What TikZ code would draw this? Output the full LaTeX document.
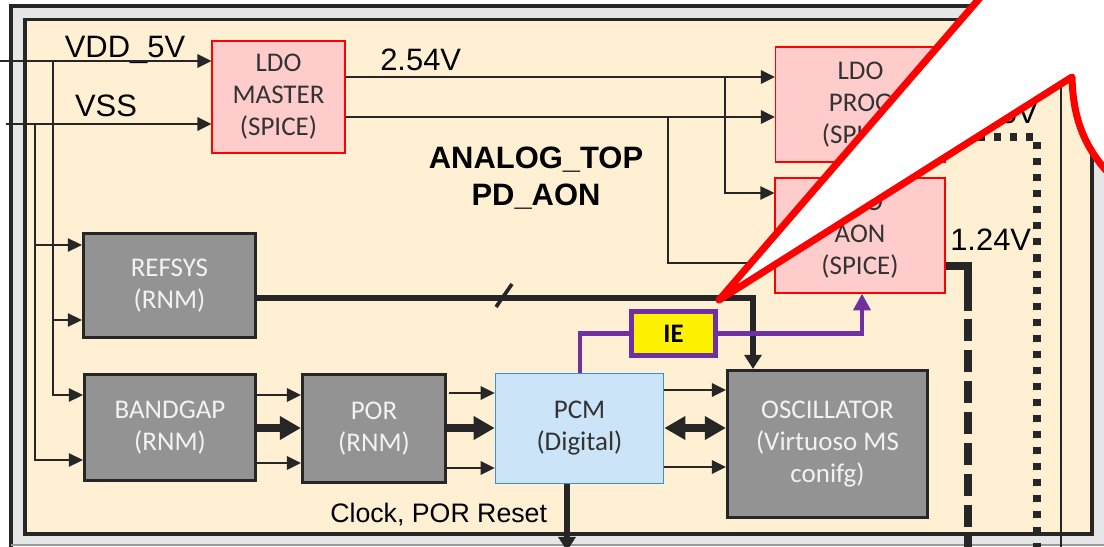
\documentclass[tikz,border=0pt]{standalone}
\usepackage{fontspec}
\setmainfont{Liberation Sans}
\newfontfamily\calfont{Carlito}
\usepackage{xcolor}
\usepackage{tikz}
\usetikzlibrary{arrows.meta}
\definecolor{cream}{HTML}{FFF0D4}
\definecolor{bandgray}{HTML}{E6E6E6}
\definecolor{ink}{HTML}{262626}
\definecolor{ldopink}{HTML}{FFCCCC}
\definecolor{rnmgray}{HTML}{939393}
\definecolor{pcmblue}{HTML}{CCE4F8}
\definecolor{pcmedge}{HTML}{3C8DDA}
\definecolor{iepurple}{HTML}{7030A0}

\begin{document}
\begin{tikzpicture}[x=0.025cm, y=-0.025cm,
			ldo/.style={draw=red, line width=0.8pt, fill=ldopink, text=black!80, align=center, inner sep=0pt, font=\calfont\fontsize{19.2}{22.8}\selectfont},
			rnm/.style={draw=ink, line width=2.2pt, fill=rnmgray, text=white!95!black, align=center, inner sep=0pt, font=\calfont\fontsize{19.2}{22.8}\selectfont},
			digital/.style={draw=pcmedge, line width=1.1pt, fill=pcmblue, text=black!80, align=center, inner sep=0pt, font=\calfont\fontsize{19.2}{22.8}\selectfont},
			enable/.style={draw=iepurple, line width=4.2pt, fill=yellow, inner sep=0pt, minimum width=2.1cm, minimum height=1.1cm, font=\calfont\bfseries\fontsize{19}{22}\selectfont},
			lbl/.style={inner sep=0pt, font=\fontsize{22}{26}\selectfont},
			wire/.style={draw=ink, line width=1.5pt, >={Triangle[length=10pt,width=9.5pt]}},
			tapline/.style={draw=ink, line width=1.1pt, >={Triangle[length=10pt,width=9.5pt]}},
			fat/.style={draw=ink, line width=5pt, >={Triangle[length=15pt,width=16pt]}},
			bus/.style={draw=ink, line width=3.6pt, >={Triangle[length=10pt,width=12pt]}},
			ctrl/.style={draw=iepurple, line width=3.4pt, >={Triangle[length=12pt,width=12pt]}},
			rail/.style={draw=ink, line width=5pt}
			]
			\useasboundingbox (0,0) rectangle (1104,546);
			\clip (0,0) rectangle (1104,546);
			\fill[white] (0,0) rectangle (1104,546);
			\fill[bandgray] (11,6) rectangle (1140,545);
			\draw[ink, line width=2.5pt] (11,560) -- (11,6) -- (1140,6);
			\draw[black!40, line width=1pt] (11,545) -- (1140,545);
			\draw[ink, line width=2.6pt, fill=cream] (25,19.5) rectangle (1092,534);
			
			\node [ldo, minimum width=3.325cm, minimum height=2.8cm](master) at (278.5,97) {LDO\\MASTER\\(SPICE)};
			\node [ldo, minimum width=4.25cm, minimum height=2.875cm](prog) at (860.5,104.5) {LDO\\PROG\\(SPICE)};
			\node [ldo, minimum width=4.25cm, minimum height=2.875cm](aon) at (860,235.5) {LDO\\AON\\(SPICE)};
			
			\node [rnm, minimum width=4.3cm, minimum height=2.6cm](refsys) at (169.5,285.5) {REFSYS\\(RNM)};
			\node [rnm, minimum width=4.275cm, minimum height=2.65cm](bandgap) at (170,427.5) {BANDGAP\\(RNM)};
			\node [rnm, minimum width=3.575cm, minimum height=2.7cm](por) at (374,428.5) {POR\\(RNM)};
			\node [digital, minimum width=4.2cm, minimum height=2.75cm](pcm) at (579.5,428.5) {PCM\\(Digital)};
			\node [rnm, minimum width=5cm, minimum height=3.675cm](osc) at (827.5,444) {OSCILLATOR\\(Virtuoso MS\\conifg)};
			\node [enable](ie) at (673.5,333.5) {IE};
			
			\node [lbl, anchor=base](vddlbl) at (125,57) {VDD\_5V};
			\node [lbl, anchor=base](vsslbl) at (106,116) {VSS};
			\node [lbl, anchor=base west](mainlbl) at (380,70) {2.54V};
			\node [lbl, anchor=base, font=\bfseries\fontsize{22}{26}\selectfont](toplbl) at (536,168) {ANALOG\_TOP};
			\node [lbl, anchor=base, font=\bfseries\fontsize{22}{26}\selectfont](pdlbl) at (536,205) {PD\_AON};
			\node [lbl, anchor=base west](aonlbl) at (950,250) {1.24V};
			\node [lbl, anchor=base east](proglbl) at (1038,123) {1.5V};
			\node [lbl, anchor=base west, font=\fontsize{19}{23}\selectfont](resetlbl) at (330,522) {Clock, POR Reset};
			
			\coordinate (vddin) at (-2,61);
			\coordinate (vssin) at (6,124);
			\coordinate (tapvdd) at (53,61);
			\coordinate (tapvss) at (35,124);
			\coordinate (tapprog) at (725,77);
			\coordinate (tapaon) at (668,117);
			\coordinate (aonbend) at (968,288);
			\coordinate (aonout) at (968,560);
			\coordinate (progout) at (1037,560);
			\coordinate (pcmout) at (567,551);
			
			\draw[wire, ->] (vddin) -- (master.west |- vddin);
			\draw[wire, ->] (vssin) -- (master.west |- vssin);
			\draw[tapline, ->] (tapvss) |- (refsys.west |- 0,245);
			\draw[tapline, ->] (tapvdd) |- (refsys.west |- 0,320);
			\draw[tapline, ->] (tapvdd) |- (bandgap.west |- 0,395);
			\draw[tapline, ->] (tapvss) |- (bandgap.west |- 0,460);
			
			\draw[wire, ->] (master.east |- 0,77) -- (prog.west |- 0,77);
			\draw[wire, ->] (master.east |- 0,117) -- (prog.west |- 0,117);
			\draw[tapline, ->] (tapprog) |- (aon.west |- 0,193);
			\draw[tapline] (tapaon) |- (aon.west |- 0,263);
			
			\draw[bus, ->] (refsys.east |- 0,298) -| (osc.north -| 753,0);
			\draw[ink, line width=2.6pt] (496,307) -- (512,284);
			
			\draw[wire, ->] (bandgap.east |- 0,395) -- (por.west |- 0,395);
			\draw[fat, ->] (bandgap.east |- 0,428) -- (por.west |- 0,428);
			\draw[wire, ->] (bandgap.east |- 0,463) -- (por.west |- 0,463);
			
			\draw[wire, ->] ([xshift=1.5pt]por.east |- 0,393) -- (pcm.west |- 0,393);
			\draw[fat, ->] (por.east |- 0,428) -- (pcm.west |- 0,428);
			\draw[wire, ->] (por.east |- 0,468) -- (pcm.west |- 0,468);
			
			\draw[wire, ->] (pcm.east |- 0,390) -- (osc.west |- 0,390);
			\draw[fat, <->] (pcm.east |- 0,428) -- (osc.west |- 0,428);
			\draw[wire, ->] (pcm.east |- 0,467) -- (osc.west |- 0,467);
			\draw[bus, ->] (pcm.south -| 567,0) -- (pcmout);
			
			\draw[ctrl] (pcm.north -| 580,0) |- (ie.west);
			\draw[ctrl, ->] (ie.east) -| (aon.south -| 862,0);
			
			\draw[rail] (aon.east |- 0,266) -| (aonbend);
			\draw[rail, dash pattern=on 16pt off 6pt] (aonbend) -- (aonout);
			\draw[rail, dash pattern=on 5pt off 6.4pt] (prog.east |- 0,137) -| (progout);
			\draw[ink, line width=2.1pt] (1061,60) -- (1061,560);
			
			\draw[red, line width=5pt, fill=white, line join=round] (719,300) -- (1004,-30) -- (1200,-30) -- (1200,200) -- (1115,180) .. controls (1085,150) and (1073,120) .. (1072,77) -- cycle;
		\end{tikzpicture}
\end{document}
